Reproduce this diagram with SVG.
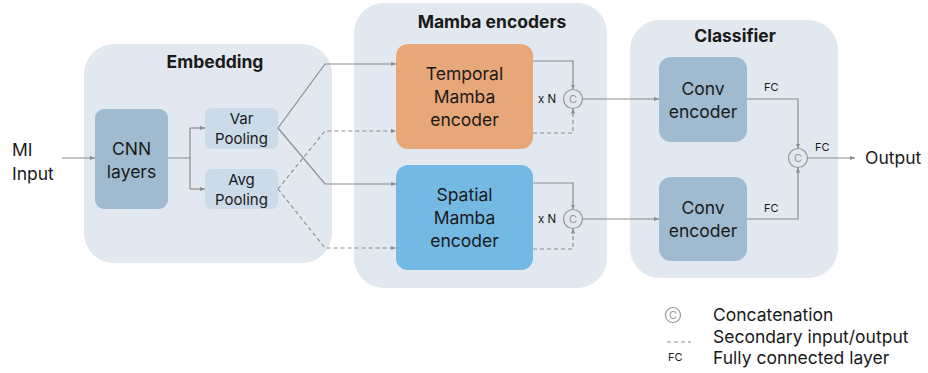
<svg xmlns="http://www.w3.org/2000/svg" width="928" height="373" viewBox="0 0 928 373">
<defs>
<marker id="ah" viewBox="0 0 6 6" refX="6" refY="3" markerWidth="5" markerHeight="5" orient="auto" markerUnits="userSpaceOnUse"><path d="M0,0.5 L6,3 L0,5.5 z" fill="#8c8c8c"/></marker>
<style>
.panel{fill:#e1e8ef}
.dark{fill:#a0bacf}
.light{fill:#cbdbe8}
.t{font-family:Inter,"Open Sans","Liberation Sans",sans-serif;fill:#1a1a1a}
.title{font-size:17.5px;font-weight:bold;text-anchor:middle}
.box{font-size:17.5px;text-anchor:middle}
.sm{font-size:15px;text-anchor:middle}
.fc{font-size:11px}
.lg{font-size:17.5px}
.ln{fill:none;stroke:#8c8c8c;stroke-width:1.2}
.dash{fill:none;stroke:#8c8c8c;stroke-width:1.1;stroke-dasharray:4 3}
.cc{fill:none;stroke:#9a9a9a;stroke-width:1.2}
.ct{font-family:Inter,"Open Sans","Liberation Sans",sans-serif;font-size:11px;fill:#9a9a9a;text-anchor:middle}
</style>
</defs>

<g id="embedding">
<rect class="panel" x="84" y="44" width="248" height="219" rx="30"/>
<text class="t title" x="215" y="68">Embedding</text>
</g>
<g id="mamba">
<rect class="panel" x="354" y="3" width="253" height="285" rx="30"/>
<text class="t title" x="492" y="28">Mamba encoders</text>
</g>
<g id="classifier">
<rect class="panel" x="630" y="20" width="208" height="258" rx="30"/>
<text class="t title" x="735" y="42">Classifier</text>
</g>

<g id="input"><text class="t box" x="12" y="156" style="text-anchor:start">MI</text><text class="t box" x="12" y="180" style="text-anchor:start">Input</text></g>

<g id="cnn"><rect class="dark" x="95" y="109" width="73" height="100" rx="9"/>
<text class="t box" x="131.5" y="155">CNN</text><text class="t box" x="131.5" y="178">layers</text></g>

<g id="var"><rect class="light" x="205" y="108" width="73" height="41" rx="6"/>
<text class="t sm" x="241.5" y="124">Var</text><text class="t sm" x="241.5" y="144">Pooling</text></g>
<g id="avg"><rect class="light" x="205" y="169" width="73" height="40" rx="6"/>
<text class="t sm" x="241.5" y="185">Avg</text><text class="t sm" x="241.5" y="205">Pooling</text></g>

<g id="temporal"><rect fill="#e8a778" x="396" y="44" width="137" height="105" rx="12"/>
<text class="t box" x="464.5" y="80">Temporal</text><text class="t box" x="464.5" y="103">Mamba</text><text class="t box" x="464.5" y="126">encoder</text></g>
<g id="spatial"><rect fill="#74b8e4" x="396" y="165" width="137" height="105" rx="12"/>
<text class="t box" x="464.5" y="201">Spatial</text><text class="t box" x="464.5" y="224">Mamba</text><text class="t box" x="464.5" y="247">encoder</text></g>

<g id="conv1"><rect class="dark" x="659" y="57" width="88" height="85" rx="12"/>
<text class="t box" x="703" y="95">Conv</text><text class="t box" x="703" y="118">encoder</text></g>
<g id="conv2"><rect class="dark" x="659" y="177" width="88" height="84" rx="12"/>
<text class="t box" x="703" y="214">Conv</text><text class="t box" x="703" y="237">encoder</text></g>

<g id="cat1"><circle class="cc" cx="573" cy="99" r="9.5"/><text class="ct" x="573" y="103">C</text>
<text class="t" x="538" y="103" font-size="11.5">x N</text></g>
<g id="cat2"><circle class="cc" cx="573" cy="219" r="9.5"/><text class="ct" x="573" y="223">C</text>
<text class="t" x="538" y="223" font-size="11.5">x N</text></g>
<g id="cat3"><circle class="cc" cx="798" cy="158" r="9.5"/><text class="ct" x="798" y="162">C</text></g>

<g id="output"><text class="t box" x="865" y="164" style="text-anchor:start">Output</text></g>

<g id="connectors">
<path class="ln" d="M62,158 H95" marker-end="url(#ah)"/>
<path class="ln" d="M168,158 H190 M190,128 V189"/>
<path class="ln" d="M190,128 H205" marker-end="url(#ah)"/>
<path class="ln" d="M190,189 H205" marker-end="url(#ah)"/>
<path class="ln" d="M278,128 L325,64 H396" marker-end="url(#ah)"/>
<path class="ln" d="M278,128 L325,184 H396" marker-end="url(#ah)"/>
<path class="dash" d="M278,189 L325,131 H396" marker-end="url(#ah)"/>
<path class="dash" d="M278,189 L325,248 H396" marker-end="url(#ah)"/>
<path class="ln" d="M533,61 H573 V89.5" marker-end="url(#ah)"/>
<path class="dash" d="M533,133 H573 V108.5" marker-end="url(#ah)"/>
<path class="ln" d="M533,183 H573 V209.5" marker-end="url(#ah)"/>
<path class="dash" d="M533,249 H573 V228.5" marker-end="url(#ah)"/>
<path class="ln" d="M582.5,99 H659" marker-end="url(#ah)"/>
<path class="ln" d="M582.5,219 H659" marker-end="url(#ah)"/>
<path class="ln" d="M747,99 H798 V148.5" marker-end="url(#ah)"/>
<path class="ln" d="M747,219 H798 V167.5" marker-end="url(#ah)"/>
<path class="ln" d="M807.5,158 H855" marker-end="url(#ah)"/>
<text class="t fc" x="764" y="91">FC</text>
<text class="t fc" x="764" y="212">FC</text>
<text class="t fc" x="815" y="151">FC</text>
</g>

<g id="legend">
<circle class="cc" cx="673" cy="315" r="7.5"/><text class="ct" x="673" y="318.5" font-size="9">C</text>
<text class="t lg" x="713" y="321">Concatenation</text>
<path class="dash" d="M667,342 H691"/>
<text class="t lg" x="713" y="343">Secondary input/output</text>
<text class="t" x="668" y="361" font-size="11">FC</text>
<text class="t lg" x="713" y="364">Fully connected layer</text>
</g>
</svg>
